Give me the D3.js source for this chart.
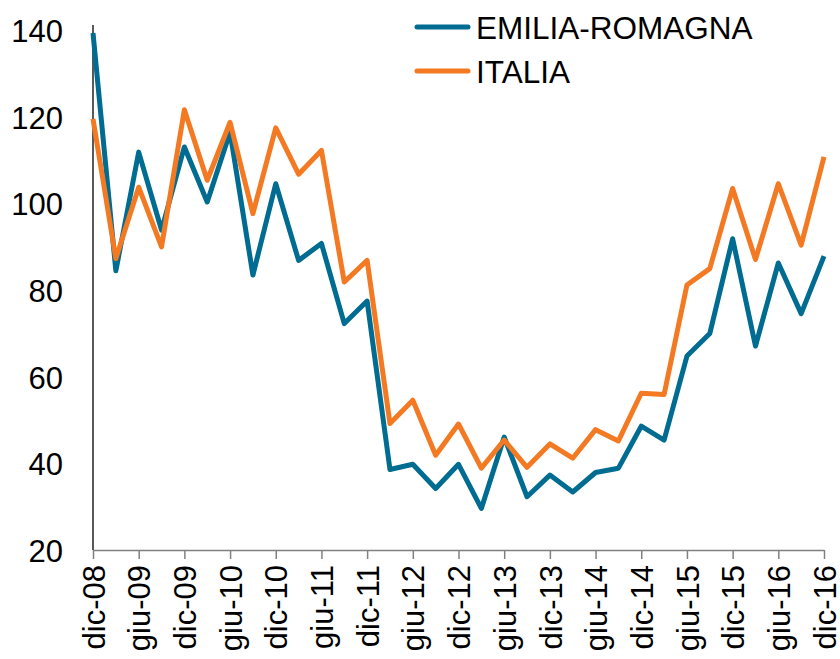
<!DOCTYPE html>
<html>
<head>
<meta charset="utf-8">
<script src="https://cdn.jsdelivr.net/npm/d3@7"></script>
<style>
  html, body { margin: 0; padding: 0; background: #fff; }
  svg { display: block; }
  text { font-family: "Liberation Sans", Arial, sans-serif; fill: #000; }
</style>
</head>
<body>
<svg id="chart" width="840" height="659"></svg>
<script>
const categories = [
  "dic-08","mar-09","giu-09","set-09","dic-09","mar-10","giu-10","set-10",
  "dic-10","mar-11","giu-11","set-11","dic-11","mar-12","giu-12","set-12",
  "dic-12","mar-13","giu-13","set-13","dic-13","mar-14","giu-14","set-14",
  "dic-14","mar-15","giu-15","set-15","dic-15","mar-16","giu-16","set-16","dic-16"
];
const emiliaRomagna = [
  139.4, 84.5, 111.9, 93.9, 113.1, 100.4, 116.5, 83.5,
  104.6, 86.9, 90.8, 72.3, 77.5, 38.6, 39.8, 34.2,
  39.8, 29.6, 46.1, 32.3, 37.3, 33.4, 37.9, 38.9,
  48.6, 45.4, 64.8, 70.0, 91.9, 67.1, 86.3, 74.6, 87.9
];
const italia = [
  119.6, 87.3, 103.8, 90.0, 121.7, 105.4, 118.8, 97.7,
  117.5, 106.8, 112.3, 81.9, 86.9, 49.2, 54.6, 41.9,
  49.1, 38.9, 45.4, 39.1, 44.5, 41.2, 47.8, 45.2,
  56.2, 55.9, 81.2, 85.0, 103.5, 87.1, 104.6, 90.4, 110.8
];
const yTicks = [20, 40, 60, 80, 100, 120, 140];
const seriesNames = ["EMILIA-ROMAGNA", "ITALIA"];
const seriesColors = ["#006C91", "#F37A22"];

const svg = d3.select("#chart");
const x = d3.scaleLinear().domain([0, categories.length - 1]).range([93, 824]);
const y = d3.scaleLinear().domain([20, 140]).range([550, 30.5]);

// y axis
const yAxis = svg.append("g").attr("transform", "translate(93,0)")
  .call(d3.axisLeft(y).tickValues(yTicks).tickSize(0).tickPadding(30).tickFormat(d3.format("d")));
yAxis.select(".domain").remove();
yAxis.selectAll("text").style("font-size", "31px").attr("dy", "0.36em");
svg.append("line").attr("x1", 93).attr("x2", 93).attr("y1", 25).attr("y2", 550)
  .attr("stroke", "#000").attr("stroke-width", 1.3);

// x axis
const tickIdx = d3.range(0, categories.length, 2);
const xAxis = svg.append("g").attr("transform", "translate(0,550)")
  .call(d3.axisBottom(x).tickValues(tickIdx).tickSize(9).tickSizeOuter(0)
    .tickFormat(i => categories[i]));
xAxis.select(".domain").attr("stroke", "#808080").attr("stroke-width", 1.5);
xAxis.selectAll(".tick line").attr("stroke", "#808080").attr("stroke-width", 1.5);
xAxis.selectAll("text")
  .style("font-size", "31px")
  .attr("text-anchor", "end")
  .attr("transform", "rotate(-90)")
  .attr("x", -15).attr("y", 0).attr("dy", "0.36em");

// lines
const line = d3.line().x((d, i) => x(i)).y(d => y(d));
[emiliaRomagna, italia].forEach((s, k) => {
  svg.append("path").datum(s)
    .attr("fill", "none")
    .attr("stroke", seriesColors[k])
    .attr("stroke-width", 5)
    .attr("stroke-linejoin", "round")
    .attr("d", line);
});

// legend
const legend = svg.append("g");
seriesNames.forEach((n, k) => {
  const ly = 27 + k * 44;
  legend.append("line").attr("x1", 417).attr("x2", 468).attr("y1", ly).attr("y2", ly)
    .attr("stroke", seriesColors[k]).attr("stroke-width", 5).attr("stroke-linecap", "round");
  legend.append("text").attr("x", 476).attr("y", ly + 12).style("font-size", "31.5px").text(n);
});
</script>
</body>
</html>
